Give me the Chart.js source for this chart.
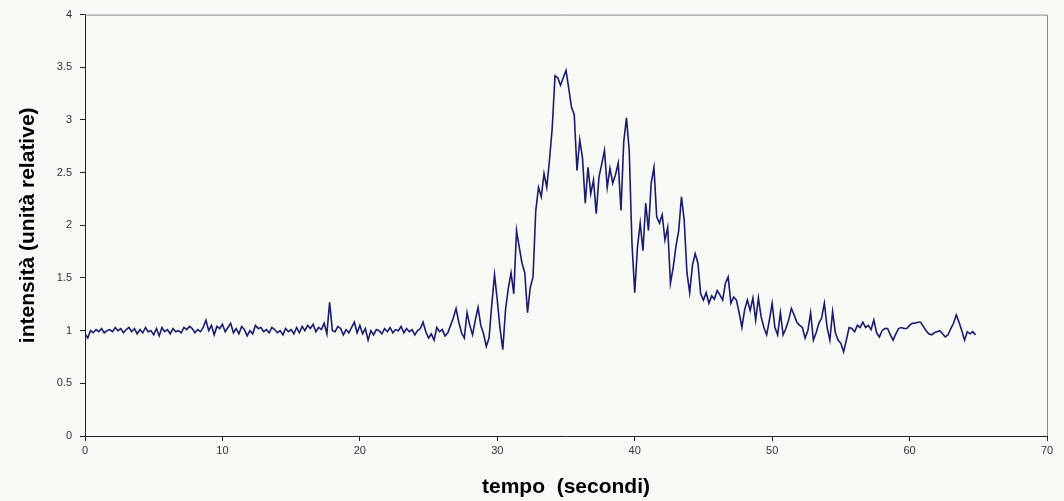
<!DOCTYPE html>
<html>
<head>
<meta charset="utf-8">
<script src="https://cdn.jsdelivr.net/npm/chart.js@4/dist/chart.umd.min.js"></script>
<style>
  html, body { margin: 0; padding: 0; background: #f6f9f4; }
</style>
</head>
<body>
<canvas id="chart" width="1064" height="501"></canvas>
<script>
// sampling of the trace (seconds)
const startTime = 0;
const stepTime = 0.2;

// intensità (unità relative), one value every 0.2 s from 0 to 64.8 s
const intensity0to10 = [0.97, 0.93, 1.00, 0.98, 1.01, 0.99, 1.02, 0.98, 1.00, 1.01, 0.99, 1.03, 1.00, 1.02, 0.98, 1.01, 1.03, 0.99, 1.02, 0.97, 1.01, 0.98, 1.03, 0.99, 1.00, 0.96, 1.02, 0.95, 1.03, 0.99, 1.01, 0.97, 1.02, 0.99, 1.00, 0.98, 1.03, 1.01, 1.04, 1.02, 0.98, 1.01, 0.99, 1.03, 1.10, 1.00, 1.05, 0.96, 1.04, 1.02, 1.06];
const intensity10to20 = [0.99, 1.03, 1.07, 0.98, 1.02, 0.97, 1.04, 1.01, 0.95, 1.00, 0.97, 1.05, 1.02, 1.03, 0.99, 1.01, 0.98, 1.03, 1.01, 0.98, 1.00, 0.96, 1.02, 0.99, 1.01, 0.97, 1.03, 0.98, 1.04, 1.00, 1.05, 1.02, 1.06, 0.99, 1.03, 1.01, 1.07, 0.97, 1.27, 1.00, 0.99, 1.04, 1.02, 0.96, 1.01, 0.98, 1.03, 1.08, 0.98, 1.05];
const intensity20to27 = [0.97, 1.02, 0.91, 1.00, 0.96, 1.01, 1.00, 0.97, 1.02, 0.99, 1.03, 0.98, 1.01, 1.00, 1.04, 0.98, 1.02, 0.99, 1.01, 0.96, 1.00, 1.02, 1.08, 0.99, 0.93, 0.97, 0.91, 1.03, 0.99, 1.01, 0.95, 0.98, 1.05, 1.12, 1.21];
const intensity27to33 = [1.08, 0.98, 0.93, 1.17, 1.05, 0.96, 1.10, 1.22, 1.05, 0.97, 0.85, 0.93, 1.25, 1.53, 1.29, 1.02, 0.82, 1.20, 1.40, 1.55, 1.35, 1.95, 1.79, 1.64, 1.55, 1.17, 1.41, 1.51, 2.14, 2.36];
const intensity33to40 = [2.27, 2.49, 2.36, 2.62, 2.93, 3.42, 3.40, 3.33, 3.40, 3.47, 3.30, 3.12, 3.05, 2.52, 2.81, 2.64, 2.21, 2.55, 2.30, 2.43, 2.11, 2.46, 2.58, 2.71, 2.36, 2.54, 2.40, 2.48, 2.59, 2.14, 2.79, 3.02, 2.71, 1.83, 1.36];
const intensity40to48 = [1.79, 2.02, 1.76, 2.21, 1.95, 2.40, 2.55, 2.08, 2.02, 2.10, 1.86, 1.98, 1.45, 1.60, 1.80, 1.95, 2.27, 2.05, 1.55, 1.36, 1.62, 1.73, 1.64, 1.35, 1.29, 1.36, 1.26, 1.33, 1.30, 1.38, 1.34, 1.29, 1.45, 1.51, 1.26, 1.32, 1.29, 1.17, 1.03, 1.20];
const intensity48to56 = [1.29, 1.19, 1.31, 1.10, 1.31, 1.13, 1.03, 0.96, 1.10, 1.26, 1.03, 0.96, 1.17, 0.96, 1.02, 1.10, 1.21, 1.15, 1.08, 1.05, 1.03, 0.93, 1.00, 1.17, 0.91, 0.98, 1.07, 1.12, 1.26, 1.03, 0.91, 1.18, 0.98, 0.91, 0.88, 0.80, 0.91, 1.03, 1.02, 0.99];
const intensity56to65 = [1.05, 1.03, 1.08, 1.03, 1.05, 1.01, 1.10, 0.98, 0.94, 1.00, 1.02, 1.02, 0.96, 0.91, 0.97, 1.02, 1.03, 1.02, 1.02, 1.05, 1.07, 1.07, 1.08, 1.08, 1.04, 1.00, 0.97, 0.96, 0.98, 0.99, 1.00, 0.97, 0.94, 0.96, 1.02, 1.07, 1.15, 1.08, 1.00, 0.91, 0.99, 0.97, 0.99, 0.96];

const intensity = [].concat(intensity0to10, intensity10to20, intensity20to27, intensity27to33,
  intensity33to40, intensity40to48, intensity48to56, intensity56to65);

const xTicks = [0, 10, 20, 30, 40, 50, 60, 70];
const yTicks = [0, 0.5, 1, 1.5, 2, 2.5, 3, 3.5, 4];

const points = intensity.map((v, i) => ({ x: startTime + i * stepTime, y: v }));

// page background + light top/right frame like the original
const framePlugin = {
  id: "frame",
  beforeDraw(chart) {
    const { ctx, width, height } = chart;
    ctx.save();
    ctx.fillStyle = "#f6f9f4";
    ctx.fillRect(0, 0, width, height);
    ctx.restore();
  },
  afterDraw(chart) {
    const { ctx, chartArea: a } = chart;
    ctx.save();
    ctx.strokeStyle = "#8a8a8a";
    ctx.lineWidth = 1;
    ctx.beginPath();
    ctx.moveTo(a.left, a.top + 0.5);
    ctx.lineTo(a.right + 0.5, a.top + 0.5);
    ctx.lineTo(a.right + 0.5, a.bottom);
    ctx.stroke();
    ctx.restore();
  }
};

new Chart(document.getElementById("chart").getContext("2d"), {
  type: "line",
  data: {
    datasets: [{
      data: points,
      borderColor: "#1a1a6e",
      borderWidth: 1.6,
      pointRadius: 0,
      tension: 0,
      fill: false
    }]
  },
  options: {
    responsive: false,
    animation: false,
    devicePixelRatio: 1,
    layout: { padding: { top: 14, right: 17, left: 0, bottom: 0 } },
    plugins: { legend: { display: false }, tooltip: { enabled: false } },
    scales: {
      x: {
        type: "linear",
        min: 0,
        max: 70,
        afterBuildTicks: (scale) => { scale.ticks = xTicks.map((v) => ({ value: v })); },
        afterFit: (scale) => { scale.height = 65; },
        grid: { drawOnChartArea: false, tickLength: 5, color: "#222" },
        border: { color: "#222", width: 1 },
        ticks: { color: "#333", font: { family: "Liberation Sans", size: 11 }, padding: 3, maxRotation: 0 },
        title: {
          display: true,
          text: "tempo  (secondi)",
          color: "#000",
          font: { family: "Liberation Sans", size: 21, weight: "bold" },
          padding: { top: 0, bottom: 1 }
        }
      },
      y: {
        min: 0,
        max: 4,
        afterBuildTicks: (scale) => { scale.ticks = yTicks.map((v) => ({ value: v })); },
        afterFit: (scale) => { scale.width = 85; },
        grid: { drawOnChartArea: false, tickLength: 5, color: "#222" },
        border: { color: "#222", width: 1 },
        ticks: { color: "#333", font: { family: "Liberation Sans", size: 11 }, padding: 8,
          callback: (value) => String(value) },
        title: {
          display: true,
          text: "intensità (unità relative)",
          color: "#000",
          font: { family: "Liberation Sans", size: 21, weight: "bold" },
          padding: { top: 16, bottom: 0 }
        }
      }
    }
  },
  plugins: [framePlugin]
});
</script>
</body>
</html>
